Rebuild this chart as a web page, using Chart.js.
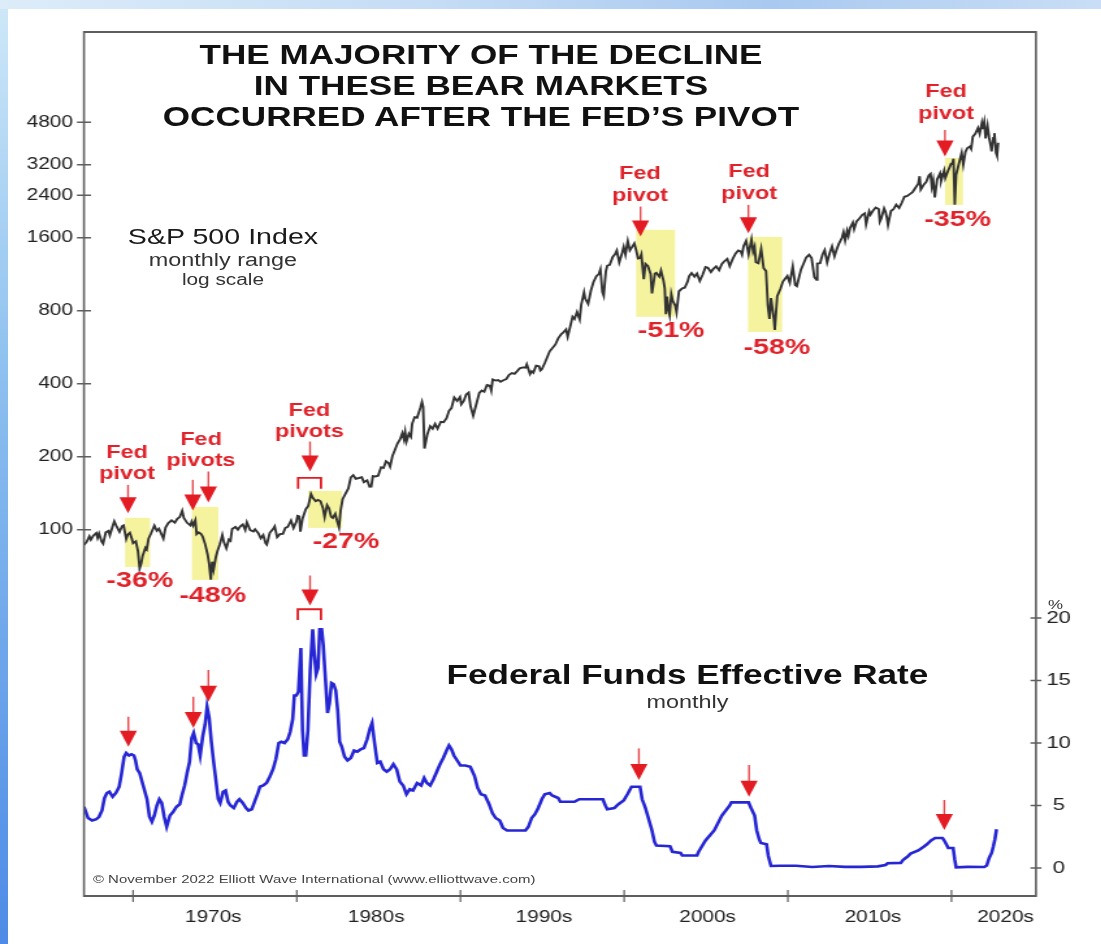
<!DOCTYPE html>
<html>
<head>
<meta charset="utf-8">
<script src="https://cdn.jsdelivr.net/npm/chart.js@4.4.1/dist/chart.umd.min.js"></script>
<style>
  html, body { margin: 0; padding: 0; background: #fff; overflow: hidden; }
  #page { position: relative; width: 1101px; height: 944px; background: #fff; }
  .edge-left { position: absolute; left: 0; top: 0; width: 8px; height: 944px;
    background: linear-gradient(#cfe8f8, #8cc0ef 40%, #4d8be6); }
  .edge-top { position: absolute; left: 0; top: 0; width: 1101px; height: 9px;
    background: linear-gradient(90deg, #dcecf9, #c4dcf5 40%, #a9c9f0 70%, #c9def6); }
  /* the source picture is stretched sideways, so the whole chart is drawn narrow and widened */
  #stretch { position: absolute; left: 0; top: 0; width: 847px; height: 944px;
    transform: scaleX(1.3); transform-origin: 0 0; }
  #chart { position: absolute; left: 0; top: 0; }
  .txt { position: absolute; white-space: nowrap; font-family: "Liberation Sans", Arial, sans-serif;
    line-height: 1; transform: translate(-50%, -50%); color: #1a1a1a; }
  #title { position: absolute; left: 370px; top: 39.5px; transform: translateX(-50%);
    font: bold 27px/31.2px "Liberation Sans", Arial, sans-serif; text-align: center; color: #111; white-space: nowrap; }
</style>
</head>
<body>
<div id="page">
  <div class="edge-left"></div>
  <div class="edge-top"></div>
  <div id="stretch">
    <canvas id="chart" width="847" height="944"></canvas>
    <div id="title">THE MAJORITY OF THE DECLINE<br>IN THESE BEAR MARKETS<br>OCCURRED AFTER THE FED’S PIVOT</div>
    <div class="txt" style="left:171.5px; top:237px; font-size:22px;">S&amp;P 500 Index</div>
    <div class="txt" style="left:171.5px; top:260px; font-size:18px; color:#333;">monthly range</div>
    <div class="txt" style="left:171.5px; top:280px; font-size:16px; color:#333;">log scale</div>
    <div class="txt" style="left:528.8px; top:675px; font-size:27px; font-weight:bold; color:#111;">Federal Funds Effective Rate</div>
    <div class="txt" style="left:528.8px; top:702px; font-size:18px; color:#333;">monthly</div>
    <div class="txt" style="left:812px; top:604px; font-size:13px; color:#333;">%</div>
    <div class="txt" style="left:71.5px; top:880px; font-size:11.5px; color:#444; transform:translateY(-50%);">© November 2022 Elliott Wave International (www.elliottwave.com)</div>
  </div>
</div>
<script>
// S&P 500, monthly range (year, index level)
const spxHistory = [
  [1967.00, 86.6], [1967.17, 89.4], [1967.33, 94.0], [1967.42, 91.0], [1967.58, 94.8], [1967.75, 97.0], [1967.83, 92.7], [1967.92, 96.5],
  [1968.08, 89.4], [1968.17, 87.7], [1968.33, 97.6], [1968.50, 99.0], [1968.58, 95.0], [1968.75, 103.4], [1968.85, 108.4],
  [1969.00, 103.0], [1969.17, 98.1], [1969.33, 103.7], [1969.42, 104.4], [1969.50, 97.7], [1969.58, 91.8], [1969.67, 95.5], [1969.80, 97.2], [1969.92, 92.1],
  [1970.00, 88.0], [1970.17, 89.6], [1970.30, 81.5], [1970.40, 69.3], [1970.50, 73.0], [1970.58, 78.0], [1970.75, 84.3], [1970.83, 83.0], [1970.95, 92.2],
  [1971.10, 96.8], [1971.30, 104.0], [1971.45, 99.0], [1971.58, 101.0], [1971.85, 92.0], [1971.98, 102.1],
  [1972.15, 106.6], [1972.35, 109.5], [1972.55, 107.0], [1972.70, 111.1], [1972.85, 113.0],
  [1973.00, 119.9], [1973.10, 112.0], [1973.30, 106.9], [1973.50, 104.3], [1973.58, 108.2], [1973.67, 104.3], [1973.80, 109.5], [1973.88, 96.0],
  [1974.00, 97.6], [1974.15, 96.2], [1974.25, 93.9], [1974.40, 87.3], [1974.55, 79.3], [1974.65, 72.2], [1974.75, 62.3], [1974.83, 73.9], [1974.92, 68.6],
  [1975.05, 76.9], [1975.15, 81.6], [1975.30, 87.3], [1975.45, 95.2], [1975.55, 88.8], [1975.70, 83.9], [1975.85, 91.2], [1975.95, 90.2],
  [1976.05, 100.9], [1976.25, 102.8], [1976.40, 100.2], [1976.55, 103.4], [1976.70, 105.2], [1976.85, 100.0], [1976.95, 107.5],
  [1977.15, 99.8], [1977.35, 98.4], [1977.45, 100.5], [1977.65, 96.8], [1977.80, 92.3], [1977.95, 95.1],
  [1978.10, 88.0], [1978.17, 86.9], [1978.35, 97.2], [1978.55, 100.7], [1978.65, 103.3], [1978.80, 93.2], [1978.90, 94.7], [1978.97, 96.1],
  [1979.15, 96.3], [1979.30, 101.8], [1979.45, 102.9], [1979.65, 109.3], [1979.80, 101.8], [1979.97, 107.9],
  [1980.05, 114.2], [1980.15, 113.7], [1980.22, 98.2], [1980.35, 111.2], [1980.55, 121.7], [1980.70, 125.5], [1980.87, 140.5], [1980.97, 135.8],
  [1981.15, 131.3], [1981.30, 132.8], [1981.45, 131.2], [1981.60, 122.8], [1981.70, 112.8], [1981.85, 126.4], [1981.97, 122.6],
  [1982.10, 113.1], [1982.20, 111.9], [1982.35, 116.4], [1982.45, 109.6], [1982.58, 102.4], [1982.68, 120.4], [1982.80, 133.7], [1982.97, 140.6],
  [1983.15, 148.1], [1983.30, 164.4], [1983.45, 168.1], [1983.60, 162.4], [1983.80, 163.6], [1983.97, 164.9],
  [1984.10, 157.1], [1984.30, 160.1], [1984.45, 150.6], [1984.55, 150.7], [1984.65, 166.7], [1984.80, 166.1], [1984.97, 167.2],
  [1985.15, 181.2], [1985.30, 179.8], [1985.45, 191.9], [1985.60, 188.6], [1985.70, 182.1], [1985.85, 202.2], [1985.97, 211.3],
  [1986.15, 226.9], [1986.30, 235.5], [1986.45, 250.8], [1986.55, 236.1], [1986.62, 252.9], [1986.70, 231.3], [1986.85, 249.2], [1986.97, 242.2],
  [1987.05, 274.1], [1987.20, 291.7], [1987.35, 290.1], [1987.55, 318.7], [1987.65, 336.8], [1987.72, 321.8], [1987.80, 216.5], [1987.88, 230.3], [1987.97, 247.1],
  [1988.15, 267.8], [1988.30, 261.3], [1988.45, 273.5], [1988.60, 261.5], [1988.80, 279.0], [1988.97, 277.7],
  [1989.15, 288.9], [1989.30, 309.6], [1989.45, 318.0], [1989.62, 351.5], [1989.80, 340.4], [1989.97, 353.4],
  [1990.05, 329.1], [1990.20, 339.9], [1990.35, 361.2], [1990.50, 368.0], [1990.62, 322.6], [1990.78, 295.5], [1990.97, 330.2],
  [1991.15, 367.1], [1991.30, 375.3], [1991.45, 371.2], [1991.62, 395.4], [1991.80, 392.5], [1991.88, 375.2], [1991.97, 417.1],
  [1992.15, 412.7], [1992.30, 415.0], [1992.45, 408.1], [1992.62, 414.0], [1992.80, 418.7], [1992.97, 435.7],
  [1993.15, 443.4], [1993.30, 440.2], [1993.45, 450.5], [1993.62, 463.6], [1993.80, 467.8], [1993.97, 466.5],
  [1994.05, 481.6], [1994.25, 438.9], [1994.35, 450.9], [1994.45, 444.3], [1994.62, 475.5], [1994.80, 472.4], [1994.88, 453.7], [1994.97, 459.3],
  [1995.15, 487.4], [1995.30, 514.7], [1995.45, 544.8], [1995.62, 561.9], [1995.80, 581.5], [1995.97, 615.9],
  [1996.15, 640.4], [1996.30, 654.2], [1996.45, 670.6], [1996.55, 626.0], [1996.70, 687.3], [1996.85, 757.0], [1996.97, 740.7],
  [1997.12, 790.8], [1997.28, 737.7], [1997.38, 848.3], [1997.55, 954.3], [1997.62, 899.5], [1997.80, 855.3], [1997.97, 970.4],
  [1998.12, 1049.3], [1998.30, 1111.8], [1998.45, 1133.8], [1998.55, 1186.7], [1998.67, 957.3], [1998.75, 923.3], [1998.88, 1163.6], [1998.97, 1229.2],
  [1999.12, 1238.3], [1999.30, 1335.2], [1999.45, 1372.7], [1999.55, 1418.8], [1999.70, 1268.4], [1999.88, 1388.9], [1999.97, 1469.3],
  [2000.08, 1366.4], [2000.22, 1552.9], [2000.35, 1420.6], [2000.45, 1454.6], [2000.62, 1517.7], [2000.72, 1436.5], [2000.85, 1315.2], [2000.97, 1320.3],
  [2001.05, 1366.0], [2001.20, 1081.2], [2001.30, 1249.5], [2001.45, 1224.4], [2001.62, 1133.6], [2001.70, 944.8], [2001.88, 1139.5], [2001.97, 1148.1],
  [2002.15, 1106.7], [2002.25, 1172.5], [2002.40, 1067.1], [2002.48, 989.8], [2002.55, 775.7], [2002.62, 916.1], [2002.70, 815.3], [2002.78, 768.6], [2002.88, 936.3], [2002.97, 879.8],
  [2003.12, 841.2], [2003.20, 788.9], [2003.35, 963.6], [2003.55, 990.3], [2003.70, 996.0], [2003.88, 1058.2], [2003.97, 1111.9],
  [2004.12, 1144.9], [2004.30, 1107.3], [2004.45, 1140.8], [2004.62, 1063.2], [2004.80, 1130.2], [2004.97, 1211.9],
  [2005.12, 1203.6], [2005.30, 1156.9], [2005.45, 1191.3], [2005.62, 1220.3], [2005.80, 1176.8], [2005.97, 1248.3],
  [2006.12, 1280.7], [2006.30, 1310.6], [2006.45, 1223.7], [2006.62, 1303.8], [2006.80, 1377.9], [2006.97, 1418.3],
  [2007.12, 1406.8], [2007.20, 1363.9], [2007.30, 1482.4], [2007.45, 1555.9], [2007.60, 1370.6], [2007.78, 1576.1], [2007.88, 1406.1], [2007.97, 1468.4],
  [2008.05, 1270.1], [2008.20, 1256.9], [2008.37, 1440.2], [2008.52, 1200.4], [2008.67, 1166.4], [2008.78, 839.8], [2008.88, 741.0], [2008.97, 903.3],
  [2009.05, 825.9], [2009.15, 735.1], [2009.20, 666.8], [2009.35, 919.1], [2009.55, 987.5], [2009.70, 1057.1], [2009.88, 1095.6], [2009.97, 1115.1],
  [2010.12, 1044.5], [2010.30, 1219.8], [2010.45, 1022.6], [2010.55, 1010.9], [2010.80, 1183.3], [2010.97, 1257.6],
  [2011.12, 1327.2], [2011.30, 1363.6], [2011.45, 1320.6], [2011.62, 1101.5], [2011.75, 1074.8], [2011.80, 1253.3], [2011.97, 1257.6],
  [2012.12, 1365.7], [2012.25, 1422.4], [2012.40, 1267.0], [2012.55, 1379.3], [2012.70, 1474.5], [2012.85, 1343.4], [2012.97, 1426.2],
  [2013.12, 1514.7], [2013.30, 1597.6], [2013.40, 1687.2], [2013.50, 1560.3], [2013.62, 1709.7], [2013.70, 1633.0], [2013.80, 1756.5], [2013.97, 1848.4],
  [2014.05, 1737.9], [2014.20, 1872.3], [2014.37, 1923.6], [2014.55, 1991.4], [2014.70, 2019.3], [2014.78, 1820.7], [2014.97, 2058.9],
  [2015.05, 1995.0], [2015.20, 2067.9], [2015.37, 2134.7], [2015.55, 2103.8], [2015.62, 1867.0], [2015.70, 1920.0], [2015.88, 2116.5], [2015.97, 2043.9],
  [2016.05, 1940.2], [2016.12, 1810.1], [2016.30, 2065.3], [2016.45, 2098.9], [2016.62, 2193.8], [2016.80, 2126.2], [2016.97, 2238.8],
  [2017.12, 2363.6], [2017.30, 2384.2], [2017.45, 2423.4], [2017.62, 2471.7], [2017.80, 2575.3], [2017.97, 2673.6],
  [2018.05, 2872.9], [2018.12, 2532.7], [2018.30, 2648.0], [2018.45, 2718.4], [2018.62, 2901.5], [2018.72, 2940.9], [2018.80, 2603.5], [2018.88, 2760.2], [2018.98, 2346.6],
  [2019.12, 2784.5], [2019.30, 2954.1], [2019.37, 2752.1], [2019.55, 3027.9], [2019.62, 2822.1], [2019.80, 3037.6], [2019.97, 3230.8],
  [2020.05, 3225.5], [2020.12, 3393.5], [2020.20, 2191.9], [2020.28, 2912.4], [2020.45, 3232.4], [2020.62, 3588.1], [2020.72, 3209.5], [2020.85, 3621.6], [2020.97, 3756.1],
  [2021.12, 3811.2], [2021.20, 3723.3], [2021.30, 4181.2], [2021.45, 4297.5], [2021.62, 4545.9], [2021.72, 4305.9], [2021.85, 4743.8], [2021.90, 4495.1],
  [2022.00, 4818.6], [2022.08, 4114.7], [2022.20, 4637.3], [2022.30, 4131.9], [2022.40, 3810.3], [2022.45, 3636.9], [2022.55, 4130.3], [2022.62, 4325.3],
  [2022.72, 3584.1], [2022.78, 3491.6], [2022.85, 3950.0]
];

// Federal funds effective rate, % (year, rate)
const fedFundsRate = [
  [1967.00, 4.9], [1967.25, 4.0], [1967.50, 3.8], [1967.75, 3.9], [1967.92, 4.1],
  [1968.10, 4.6], [1968.25, 5.6], [1968.40, 6.0], [1968.55, 6.1], [1968.75, 5.7], [1968.95, 6.0],
  [1969.15, 6.5], [1969.30, 7.6], [1969.45, 8.9], [1969.58, 9.2], [1969.75, 9.0], [1969.90, 9.1],
  [1970.05, 9.0], [1970.15, 8.6], [1970.25, 7.9], [1970.40, 7.6], [1970.55, 6.9], [1970.70, 6.2], [1970.85, 5.5],
  [1971.00, 4.1], [1971.15, 3.7], [1971.30, 4.2], [1971.45, 5.0], [1971.60, 5.5], [1971.75, 5.2], [1971.90, 4.1],
  [1972.05, 3.3], [1972.25, 4.2], [1972.45, 4.5], [1972.65, 4.9], [1972.85, 5.1],
  [1973.00, 5.9], [1973.15, 6.6], [1973.30, 7.6], [1973.45, 8.5], [1973.58, 10.4], [1973.70, 10.8], [1973.85, 10.0], [1973.97, 9.9],
  [1974.10, 9.0], [1974.25, 10.5], [1974.40, 11.5], [1974.52, 12.9], [1974.65, 12.0], [1974.78, 10.1], [1974.92, 8.5],
  [1975.05, 7.1], [1975.20, 5.5], [1975.32, 5.2], [1975.50, 6.1], [1975.65, 6.2], [1975.80, 5.3], [1975.95, 5.0],
  [1976.15, 4.8], [1976.35, 5.3], [1976.50, 5.5], [1976.70, 5.2], [1976.90, 4.8],
  [1977.05, 4.6], [1977.25, 4.7], [1977.45, 5.4], [1977.60, 5.9], [1977.75, 6.5], [1977.95, 6.6],
  [1978.15, 6.8], [1978.35, 7.3], [1978.55, 7.9], [1978.72, 8.7], [1978.90, 10.0],
  [1979.05, 10.1], [1979.25, 10.0], [1979.45, 10.3], [1979.60, 10.9], [1979.75, 11.9], [1979.85, 13.8], [1979.97, 13.8],
  [1980.10, 14.1], [1980.25, 17.6], [1980.35, 11.0], [1980.45, 9.0], [1980.55, 9.0], [1980.68, 11.0], [1980.82, 15.9], [1980.97, 19.1],
  [1981.08, 17.0], [1981.18, 15.5], [1981.30, 16.0], [1981.40, 19.1], [1981.52, 19.1], [1981.62, 17.8], [1981.75, 15.1], [1981.88, 12.4],
  [1982.00, 13.2], [1982.12, 14.8], [1982.25, 14.7], [1982.38, 14.2], [1982.50, 12.6], [1982.62, 10.1], [1982.75, 9.7], [1982.92, 8.9],
  [1983.10, 8.6], [1983.30, 8.8], [1983.50, 9.4], [1983.70, 9.3], [1983.90, 9.5],
  [1984.10, 9.6], [1984.30, 10.3], [1984.48, 11.2], [1984.60, 11.6], [1984.75, 10.0], [1984.92, 8.4],
  [1985.10, 8.5], [1985.30, 7.9], [1985.50, 7.7], [1985.70, 7.9], [1985.90, 8.3],
  [1986.10, 7.9], [1986.30, 6.9], [1986.50, 6.6], [1986.70, 5.9], [1986.90, 6.3],
  [1987.10, 6.2], [1987.35, 6.8], [1987.60, 6.6], [1987.78, 7.2], [1987.95, 6.8],
  [1988.15, 6.6], [1988.35, 7.1], [1988.55, 7.7], [1988.75, 8.3], [1988.95, 8.8],
  [1989.15, 9.4], [1989.30, 9.8], [1989.45, 9.5], [1989.60, 9.0], [1989.80, 8.6],
  [1990.00, 8.2], [1990.30, 8.2], [1990.60, 8.1], [1990.85, 7.4],
  [1991.05, 6.4], [1991.25, 5.9], [1991.50, 5.8], [1991.75, 5.1], [1991.95, 4.4],
  [1992.15, 4.0], [1992.40, 3.8], [1992.60, 3.2], [1992.85, 3.0], [1993.20, 3.0], [1993.60, 3.0], [1993.97, 3.0],
  [1994.15, 3.3], [1994.35, 4.0], [1994.55, 4.3], [1994.75, 4.8], [1994.97, 5.5],
  [1995.15, 5.9], [1995.45, 6.0], [1995.60, 5.8], [1995.97, 5.6], [1996.10, 5.3], [1996.50, 5.3], [1996.97, 5.3],
  [1997.25, 5.5], [1997.97, 5.5], [1998.70, 5.5], [1998.85, 5.0], [1998.97, 4.7],
  [1999.40, 4.8], [1999.65, 5.1], [1999.97, 5.4], [2000.20, 5.9], [2000.45, 6.5], [2000.97, 6.5],
  [2001.10, 5.5], [2001.30, 4.8], [2001.50, 3.9], [2001.70, 3.0], [2001.85, 2.1], [2001.97, 1.8],
  [2002.80, 1.75], [2002.95, 1.3], [2003.45, 1.2], [2003.55, 1.0], [2004.45, 1.0], [2004.55, 1.3], [2004.97, 2.2],
  [2005.50, 3.0], [2005.97, 4.2], [2006.45, 5.0], [2006.55, 5.25], [2007.60, 5.25], [2007.75, 4.8], [2007.97, 4.2],
  [2008.10, 3.0], [2008.25, 2.3], [2008.35, 2.0], [2008.70, 1.9], [2008.80, 1.0], [2008.97, 0.16],
  [2009.50, 0.18], [2010.50, 0.18], [2011.50, 0.08], [2012.50, 0.16], [2013.50, 0.09], [2014.50, 0.09], [2015.50, 0.13], [2015.97, 0.24],
  [2016.10, 0.38], [2016.90, 0.41], [2017.05, 0.66], [2017.30, 0.9], [2017.50, 1.15], [2017.97, 1.4],
  [2018.30, 1.7], [2018.50, 1.9], [2018.75, 2.2], [2019.00, 2.4], [2019.45, 2.4], [2019.60, 2.1], [2019.80, 1.6],
  [2020.10, 1.6], [2020.20, 0.65], [2020.28, 0.05], [2021.00, 0.09], [2022.00, 0.08],
  [2022.15, 0.2], [2022.30, 0.8], [2022.45, 1.2], [2022.55, 1.7], [2022.65, 2.3], [2022.75, 3.1]
];

// axes
const spxTicks = [100, 200, 400, 800, 1600, 2400, 3200, 4800];
const rateTicks = [0, 5, 10, 15, 20];
const decadeTicks = [1970, 1980, 1990, 2000, 2010, 2020];
const decadeLabels = ['1970s', '1980s', '1990s', '2000s', '2010s', '2020s'];
const decadeLabelYears = [1974.9, 1984.85, 1995.1, 2005.1, 2015.2, 2023.3];

// bear markets after each pivot (top panel)
const declineBoxes = [
  { from: 1969.51, to: 1971.04, high: 112.1, low: 70.3 },
  { from: 1973.59, to: 1975.21, high: 124.4, low: 62.2 },
  { from: 1980.69, to: 1982.77, high: 144.8, low: 101.9 },
  { from: 2000.73, to: 2003.11, high: 1727, low: 756 },
  { from: 2007.57, to: 2009.65, high: 1615, low: 655 },
  { from: 2019.60, to: 2020.70, high: 3420, low: 2189 }
];
const declineLabels = [
  { year: 1970.41, at: 61.6, text: '-36%' },
  { year: 1974.86, at: 53.4, text: '-48%' },
  { year: 1983.01, at: 88.8, text: '-27%' },
  { year: 2002.87, at: 661.7, text: '-51%' },
  { year: 2009.34, at: 563, text: '-58%' },
  { year: 2020.37, at: 1898, text: '-35%' }
];
const pivotLabels = [
  { year: 1969.63, at: 207.8, lines: ['Fed', 'pivot'] },
  { year: 1974.15, at: 235.1, lines: ['Fed', 'pivots'] },
  { year: 1980.78, at: 309.6, lines: ['Fed', 'pivots'] },
  { year: 2000.97, at: 2924, lines: ['Fed', 'pivot'] },
  { year: 2007.63, at: 2980, lines: ['Fed', 'pivot'] },
  { year: 2019.66, at: 6370, lines: ['Fed', 'pivot'] }
];
const spxArrows = [
  { year: 1969.69, top: 153.3, tip: 117.2 },
  { year: 1973.65, top: 160.8, tip: 120.1 },
  { year: 1974.60, top: 174.0, tip: 129.6 },
  { year: 1980.81, top: 231.3, tip: 174.0 },
  { year: 2001.00, top: 2154, tip: 1620 },
  { year: 2007.59, top: 2189, tip: 1673 },
  { year: 2019.60, top: 4461, tip: 3463 }
];
const rateArrows = [
  { year: 1969.71, top: 12.1, tip: 9.7 },
  { year: 1973.68, top: 13.7, tip: 11.2 },
  { year: 1974.60, top: 15.84, tip: 13.3 },
  { year: 1980.81, top: 23.4, tip: 21.0 },
  { year: 2000.90, top: 9.57, tip: 7.04 },
  { year: 2007.63, top: 8.24, tip: 5.7 },
  { year: 2019.56, top: 5.44, tip: 3.04 }
];
const pivotBrackets = [
  { axis: 'y', from: 1980.08, to: 1981.48, top: 163.8, leg: 147.6 },
  { axis: 'y2', from: 1980.06, to: 1981.48, top: 20.7, leg: 19.84 }
];

const FONT = '"Liberation Sans", Arial, sans-serif';
const RED = '#e31b23';

function drawArrow(ctx, x, yTop, yTip) {
  const headH = 16, halfW = 6.6;
  ctx.strokeStyle = '#e9474c';
  ctx.lineWidth = 1.4;
  ctx.beginPath();
  ctx.moveTo(x, yTop);
  ctx.lineTo(x, yTip - headH + 1);
  ctx.stroke();
  ctx.fillStyle = RED;
  ctx.beginPath();
  ctx.moveTo(x - halfW, yTip - headH);
  ctx.lineTo(x + halfW, yTip - headH);
  ctx.lineTo(x, yTip);
  ctx.closePath();
  ctx.fill();
}

const pivotPlugin = {
  id: 'pivotNotes',
  beforeDatasetsDraw(chart) {
    const { ctx } = chart;
    const xs = chart.scales.x, ys = chart.scales.y;
    ctx.save();
    ctx.fillStyle = '#f5f39e';
    declineBoxes.forEach(b => {
      const x0 = xs.getPixelForValue(b.from), x1 = xs.getPixelForValue(b.to);
      const y0 = ys.getPixelForValue(b.high), y1 = ys.getPixelForValue(b.low);
      ctx.fillRect(x0, y0, x1 - x0, y1 - y0);
    });
    ctx.restore();
  },
  afterDatasetsDraw(chart) {
    const { ctx, chartArea } = chart;
    const xs = chart.scales.x, ys = chart.scales.y, ys2 = chart.scales.y2;
    const { left, right, top, bottom } = chartArea;
    ctx.save();

    // frame
    ctx.strokeStyle = '#5e5e5e';
    ctx.lineWidth = 2;
    ctx.beginPath();
    ctx.moveTo(left, top); ctx.lineTo(right, top);
    ctx.moveTo(left, bottom); ctx.lineTo(right, bottom);
    ctx.stroke();
    ctx.lineWidth = 1.6;
    ctx.beginPath();
    ctx.moveTo(left, top - 1); ctx.lineTo(left, bottom + 1);
    ctx.moveTo(right, top - 1); ctx.lineTo(right, bottom + 1);
    ctx.stroke();

    // tick marks crossing the axes
    ctx.lineWidth = 1.5;
    ctx.beginPath();
    spxTicks.forEach(v => {
      const y = ys.getPixelForValue(v);
      ctx.moveTo(left - 5.4, y); ctx.lineTo(left + 5.4, y);
    });
    rateTicks.forEach(v => {
      const y = ys2.getPixelForValue(v);
      ctx.moveTo(right - 4.2, y); ctx.lineTo(right + 4.2, y);
    });
    ctx.stroke();
    ctx.lineWidth = 1.2;
    ctx.beginPath();
    decadeTicks.forEach(v => {
      const x = xs.getPixelForValue(v);
      ctx.moveTo(x, bottom - 6); ctx.lineTo(x, bottom + 6);
    });
    ctx.stroke();

    // arrows
    spxArrows.forEach(a => drawArrow(ctx, xs.getPixelForValue(a.year), ys.getPixelForValue(a.top), ys.getPixelForValue(a.tip)));
    rateArrows.forEach(a => drawArrow(ctx, xs.getPixelForValue(a.year), ys2.getPixelForValue(a.top), ys2.getPixelForValue(a.tip)));

    // brackets under the 1980-81 arrows
    ctx.strokeStyle = RED;
    ctx.lineWidth = 1.8;
    pivotBrackets.forEach(b => {
      const sc = chart.scales[b.axis];
      const x0 = xs.getPixelForValue(b.from), x1 = xs.getPixelForValue(b.to);
      const yt = sc.getPixelForValue(b.top), yl = sc.getPixelForValue(b.leg);
      ctx.beginPath();
      ctx.moveTo(x0, yl); ctx.lineTo(x0, yt); ctx.lineTo(x1, yt); ctx.lineTo(x1, yl);
      ctx.stroke();
    });

    // labels
    ctx.fillStyle = '#e0222a';
    ctx.textAlign = 'center';
    ctx.textBaseline = 'middle';
    ctx.font = 'bold 18px ' + FONT;
    pivotLabels.forEach(p => {
      const x = xs.getPixelForValue(p.year), y = ys.getPixelForValue(p.at);
      p.lines.forEach((t, i) => ctx.fillText(t, x, y + i * 21.5));
    });
    ctx.font = 'bold 22px ' + FONT;
    declineLabels.forEach(d => {
      ctx.fillText(d.text, xs.getPixelForValue(d.year), ys.getPixelForValue(d.at));
    });
    ctx.restore();
  }
};

new Chart(document.getElementById('chart'), {
  type: 'line',
  data: {
    datasets: [
      {
        label: 'S&P 500 Index',
        data: spxHistory.map(([x, y]) => ({ x, y })),
        yAxisID: 'y',
        borderColor: '#333333',
        borderWidth: 1.9,
        pointRadius: 0,
        tension: 0
      },
      {
        label: 'Federal Funds Effective Rate',
        data: fedFundsRate.map(([x, y]) => ({ x, y })),
        yAxisID: 'y2',
        borderColor: '#2626d4',
        borderWidth: 2.6,
        pointRadius: 0,
        tension: 0
      }
    ]
  },
  options: {
    responsive: false,
    animation: false,
    layout: { padding: { top: 32, left: 0, right: 0, bottom: 0 } },
    plugins: { legend: { display: false }, tooltip: { enabled: false } },
    scales: {
      x: {
        type: 'linear',
        position: 'bottom',
        min: 1967.0,
        max: 2025.16,
        grid: { display: false, drawTicks: false },
        border: { display: false },
        afterBuildTicks: s => { s.ticks = decadeLabelYears.map(v => ({ value: v })); },
        afterFit: s => { s.height = 48; },
        ticks: {
          autoSkip: false,
          maxRotation: 0,
          padding: 12,
          color: '#222',
          font: { family: FONT, size: 16 },
          callback: (v, i) => decadeLabels[i]
        }
      },
      y: {
        type: 'logarithmic',
        position: 'left',
        min: 3.09,
        max: 11300,
        grid: { display: false, drawTicks: false },
        border: { display: false },
        afterBuildTicks: s => { s.ticks = spxTicks.map(v => ({ value: v })); },
        afterFit: s => { s.width = 64.6; },
        ticks: {
          padding: 8.5,
          color: '#222',
          font: { family: FONT, size: 16 },
          callback: v => String(v)
        }
      },
      y2: {
        type: 'linear',
        position: 'right',
        min: -2.24,
        max: 66.88,
        grid: { display: false, drawTicks: false },
        border: { display: false },
        afterBuildTicks: s => { s.ticks = rateTicks.map(v => ({ value: v })); },
        afterFit: s => { s.width = 50.1; },
        ticks: {
          padding: 8,
          crossAlign: 'center',
          color: '#222',
          font: { family: FONT, size: 17 },
          callback: v => String(v)
        }
      }
    }
  },
  plugins: [pivotPlugin]
});
</script>
</body>
</html>
